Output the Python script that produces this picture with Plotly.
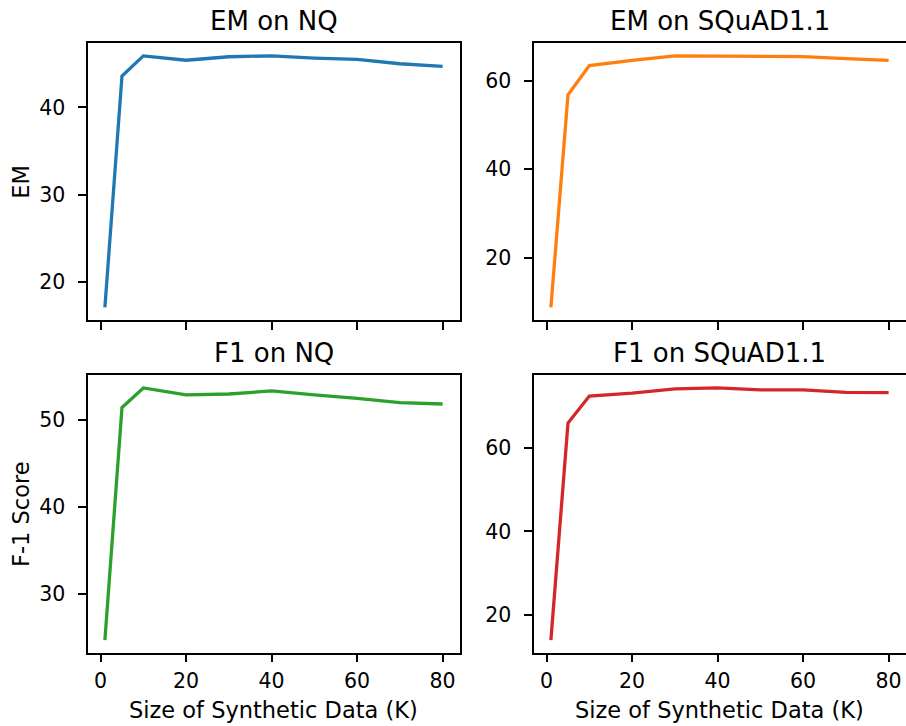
import plotly.graph_objects as go

sizes_k = [1, 5, 10, 20, 30, 40, 50, 60, 70, 80]
em_nq = [17.1, 43.6, 45.9, 45.4, 45.8, 45.9, 45.65, 45.5, 45.0, 44.7]
em_squad = [8.8, 56.8, 63.4, 64.6, 65.6, 65.6, 65.45, 65.45, 65.0, 64.6]
f1_nq = [24.7, 51.45, 53.7, 52.9, 53.0, 53.35, 52.9, 52.5, 52.0, 51.85]
f1_squad = [13.9, 66.0, 72.5, 73.2, 74.2, 74.45, 74.0, 74.0, 73.4, 73.3]

titles = ["EM on NQ", "EM on SQuAD1.1", "F1 on NQ", "F1 on SQuAD1.1"]
series = [em_nq, em_squad, f1_nq, f1_squad]
colors = ["#1f77b4", "#ff7f0e", "#2ca02c", "#d62728"]
ylabels = ["EM", "F-1 Score"]
xlabel = "Size of Synthetic Data (K)"
x_ticks = [0, 20, 40, 60, 80]

W, H = 906, 726
FONT = "DejaVu Sans"
TICK_SIZE = 20.5
LABEL_SIZE = 22.5
TITLE_SIZE = 26

# pixel boxes (left, right, top, bottom)
boxes = [
    (88, 459.5, 43.3, 320.0),
    (534, 905.5, 43.3, 320.0),
    (88, 459.5, 375.3, 652.7),
    (534, 905.5, 375.3, 652.7),
]


def margin_range(vals, frac=0.05):
    lo, hi = min(vals), max(vals)
    span = hi - lo
    return [lo - frac * span, hi + frac * span]


fig = go.Figure()
layout = dict(
    width=W, height=H,
    margin=dict(l=0, r=0, t=0, b=0),
    paper_bgcolor="white", plot_bgcolor="white",
    showlegend=False,
    font=dict(family=FONT, color="black", size=TICK_SIZE),
)
annotations = []
xr = margin_range(sizes_k)

for i, (vals, col, (l, r, t, b)) in enumerate(zip(series, colors, boxes)):
    n = i + 1
    xa = "x" if n == 1 else f"x{n}"
    ya = "y" if n == 1 else f"y{n}"
    fig.add_trace(go.Scatter(x=sizes_k, y=vals, mode="lines",
                             line=dict(color=col, width=3.3),
                             xaxis=xa, yaxis=ya, hoverinfo="skip"))
    xkey = "xaxis" if n == 1 else f"xaxis{n}"
    ykey = "yaxis" if n == 1 else f"yaxis{n}"
    common = dict(showline=True, linecolor="black", linewidth=1.8, mirror=True,
                  ticks="outside", ticklen=7.7, tickwidth=1.8, tickcolor="black",
                  showgrid=False, zeroline=False,
                  tickfont=dict(family=FONT, size=TICK_SIZE, color="black"))
    layout[xkey] = dict(domain=[l / W, r / W], range=xr, anchor=ya,
                        tickmode="array", tickvals=x_ticks,
                        showticklabels=(i >= 2), ticklabelstandoff=1, **common)
    layout[ykey] = dict(domain=[1 - b / H, 1 - t / H], range=margin_range(vals),
                        anchor=xa, dtick=10 if i in (0, 2) else 20, tick0=0,
                        ticklabelstandoff=9, **common)
    annotations.append(dict(text=titles[i], xref="paper", yref="paper",
                            x=(l + r) / 2 / W, y=1 - t / H, xanchor="center",
                            yanchor="bottom", yshift=5, showarrow=False,
                            font=dict(family=FONT, size=TITLE_SIZE, color="black")))
    if i % 2 == 0:
        annotations.append(dict(text=ylabels[i // 2], xref="paper", yref="paper",
                                x=21 / W, y=1 - (t + b) / 2 / H, xanchor="center",
                                yanchor="middle", textangle=-90, showarrow=False,
                                font=dict(family=FONT, size=LABEL_SIZE, color="black")))
    if i >= 2:
        annotations.append(dict(text=xlabel, xref="paper", yref="paper",
                                x=(l + r) / 2 / W, y=1 - 710 / H, xanchor="center",
                                yanchor="middle", showarrow=False,
                                font=dict(family=FONT, size=LABEL_SIZE, color="black")))

layout["annotations"] = annotations
fig.update_layout(**layout)
fig.write_html("out.html")
